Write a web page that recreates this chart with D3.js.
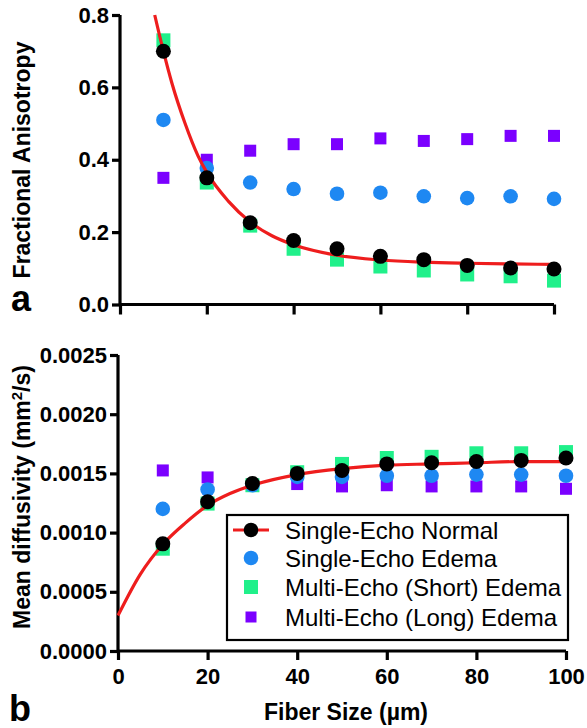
<!DOCTYPE html>
<html>
<head>
<meta charset="utf-8">
<script src="https://cdn.jsdelivr.net/npm/d3@7"></script>
<style>
  html, body { margin: 0; padding: 0; background: #fff; }
  svg { display: block; font-family: "Liberation Sans", Arial, Helvetica, sans-serif; }
</style>
</head>
<body>
<svg id="chart" width="587" height="728"></svg>
<script>
// ---------- data ----------
const fiberSizes = [10, 20, 30, 40, 50, 60, 70, 80, 90, 100];
const xTicks = [0, 20, 40, 60, 80, 100];

// Panel a: Fractional Anisotropy
const faSingleNormal = [0.70, 0.350, 0.226, 0.177, 0.154, 0.133, 0.124, 0.108, 0.101, 0.098];
const faSingleEdema  = [0.51, 0.377, 0.337, 0.319, 0.306, 0.309, 0.299, 0.294, 0.299, 0.292];
const faMultiShort   = [0.73, 0.337, 0.218, 0.154, 0.124, 0.105, 0.094, 0.083, 0.078, 0.066];
const faMultiLong    = [0.35, 0.400, 0.425, 0.443, 0.443, 0.459, 0.452, 0.457, 0.466, 0.466];
const faFitX = [8, 10, 12, 15, 18, 20, 25, 30, 35, 40, 50, 60, 70, 80, 90, 100];
const faFitY = [0.80, 0.70, 0.61, 0.50, 0.41, 0.365, 0.285, 0.228, 0.19, 0.165, 0.136, 0.123, 0.117, 0.114, 0.112, 0.111];
const faTicks = [0.0, 0.2, 0.4, 0.6, 0.8];

// Panel b: Mean diffusivity
const mdSingleNormal = [0.000905, 0.00126, 0.001415, 0.00150, 0.001525, 0.00158, 0.00159, 0.00160, 0.00161, 0.00163];
const mdSingleEdema  = [0.00120, 0.001364, 0.00140, 0.00147, 0.00147, 0.00148, 0.00148, 0.00149, 0.00149, 0.00148];
const mdMultiShort   = [0.000864, 0.001245, 0.00140, 0.00151, 0.00158, 0.00163, 0.00164, 0.00167, 0.00167, 0.00168];
const mdMultiLong    = [0.001525, 0.001466, 0.00140, 0.00141, 0.00139, 0.00140, 0.00139, 0.00139, 0.00139, 0.00137];
const mdFitX = [0, 5, 10, 15, 20, 25, 30, 40, 50, 60, 70, 80, 90, 100];
const mdFitY = [0.0003, 0.00065, 0.0009, 0.00108, 0.00123, 0.00133, 0.0014, 0.00149, 0.00154, 0.00157, 0.00158, 0.00159, 0.0016, 0.0016];
const mdTicks = [0.0000, 0.0005, 0.0010, 0.0015, 0.0020, 0.0025];

const legendLabels = ["Single-Echo Normal", "Single-Echo Edema", "Multi-Echo (Short) Edema", "Multi-Echo (Long) Edema"];

// ---------- styles ----------
const C = { red: "#ee1d1d", black: "#000000", blue: "#1e88f2", green: "#20f08a", purple: "#7b00ff" };

const svg = d3.select("#chart");

function panel(opts) {
  const g = svg.append("g");
  const x = d3.scaleLinear().domain([0, 100]).range(opts.xr);
  const y = d3.scaleLinear().domain(opts.yd).range(opts.yr);

  // axes
  const yAxis = d3.axisLeft(y).tickValues(opts.yTicks).tickFormat(opts.yFmt).tickSize(8).tickPadding(3);
  const ga = g.append("g").attr("transform", `translate(${opts.xr[0]},0)`).call(yAxis);
  const xAxis = d3.axisBottom(x).tickValues(xTicks).tickSize(opts.xTickLen).tickPadding(8)
    .tickFormat(opts.xLabels ? d3.format("d") : () => "");
  const gx = g.append("g").attr("transform", `translate(0,${opts.yr[0]})`).call(xAxis);
  [ga, gx].forEach(a => {
    a.select(".domain").attr("stroke", "#000").attr("stroke-width", 3.2);
    a.selectAll(".tick line").attr("stroke", "#000").attr("stroke-width", 3.2);
    a.selectAll(".tick text").attr("fill", "#000").style("font-size", "22px").style("font-weight", "bold");
  });
  ga.select(".domain").attr("d", `M0,${opts.yr[0]}V${opts.yr[1]}`);
  gx.select(".domain").attr("d", `M${opts.xr[0]},0H${opts.xr[1]}`);

  // marks
  const pts = s => fiberSizes.map((f, i) => [f, s[i]]);
  const sq = (data, color, size) => g.append("g").selectAll("rect").data(pts(data)).join("rect")
    .attr("x", d => x(d[0]) - size / 2).attr("y", d => y(d[1]) - size / 2)
    .attr("width", size).attr("height", size).attr("fill", color);
  const circ = (data, color, r) => g.append("g").selectAll("circle").data(pts(data)).join("circle")
    .attr("cx", d => x(d[0])).attr("cy", d => y(d[1])).attr("r", r).attr("fill", color);

  sq(opts.long, C.purple, 12);
  sq(opts.short, C.green, 14);
  circ(opts.edema, C.blue, 7.3);
  const line = d3.line().x(d => x(d[0])).y(d => y(d[1])).curve(d3.curveMonotoneX);
  g.append("path").datum(opts.fitX.map((v, i) => [v, opts.fitY[i]]))
    .attr("d", line).attr("fill", "none").attr("stroke", C.red).attr("stroke-width", 3.2);
  circ(opts.normal, C.black, 7.5);
  return { g, x, y };
}

panel({
  xr: [120, 554], yd: [0, 0.8], yr: [304.5, 15], yTicks: faTicks, yFmt: d3.format(".1f"),
  xTickLen: 10, xLabels: false,
  normal: faSingleNormal, edema: faSingleEdema, short: faMultiShort, long: faMultiLong,
  fitX: faFitX, fitY: faFitY
});

panel({
  xr: [118, 566], yd: [0, 0.0025], yr: [651, 355], yTicks: mdTicks, yFmt: d3.format(".4f"),
  xTickLen: 9, xLabels: true,
  normal: mdSingleNormal, edema: mdSingleEdema, short: mdMultiShort, long: mdMultiLong,
  fitX: mdFitX, fitY: mdFitY
});

// axis titles
svg.append("text").attr("transform", "translate(30,160) rotate(-90)")
  .attr("text-anchor", "middle").style("font-size", "23px").style("font-weight", "bold")
  .text("Fractional Anisotropy");

const md = svg.append("text").attr("transform", "translate(30,497) rotate(-90)")
  .attr("text-anchor", "middle").style("font-size", "23px").style("font-weight", "bold");
md.append("tspan").text("Mean diffusivity (mm");
md.append("tspan").attr("dy", -8).style("font-size", "15px").text("2");
md.append("tspan").attr("dy", 8).text("/s)");

svg.append("text").attr("x", 346).attr("y", 720).attr("text-anchor", "middle")
  .style("font-size", "23px").style("font-weight", "bold").text("Fiber Size (µm)");

svg.append("text").attr("x", 11).attr("y", 311).style("font-size", "36px").style("font-weight", "bold").text("a");
svg.append("text").attr("x", 9).attr("y", 721).style("font-size", "36px").style("font-weight", "bold").text("b");

// legend
const lg = svg.append("g");
lg.append("rect").attr("x", 227).attr("y", 515).attr("width", 341).attr("height", 125)
  .attr("fill", "#fff").attr("stroke", "#000").attr("stroke-width", 2.2);
const rowY = [530, 558, 587, 617];
const symX = 251;
legendLabels.forEach((lab, i) => {
  const yy = rowY[i];
  if (i === 0) {
    lg.append("line").attr("x1", 233).attr("x2", 269).attr("y1", yy).attr("y2", yy)
      .attr("stroke", C.red).attr("stroke-width", 3.2);
    lg.append("circle").attr("cx", symX).attr("cy", yy).attr("r", 7.3).attr("fill", C.black);
  } else if (i === 1) {
    lg.append("circle").attr("cx", symX).attr("cy", yy).attr("r", 7.3).attr("fill", C.blue);
  } else if (i === 2) {
    lg.append("rect").attr("x", symX - 7).attr("y", yy - 7).attr("width", 14).attr("height", 14).attr("fill", C.green);
  } else {
    lg.append("rect").attr("x", symX - 5.5).attr("y", yy - 5.5).attr("width", 11).attr("height", 11).attr("fill", C.purple);
  }
  lg.append("text").attr("x", 285).attr("y", yy).attr("dy", "0.36em")
    .style("font-size", "24px").attr("fill", "#000").text(lab);
});
</script>
</body>
</html>
